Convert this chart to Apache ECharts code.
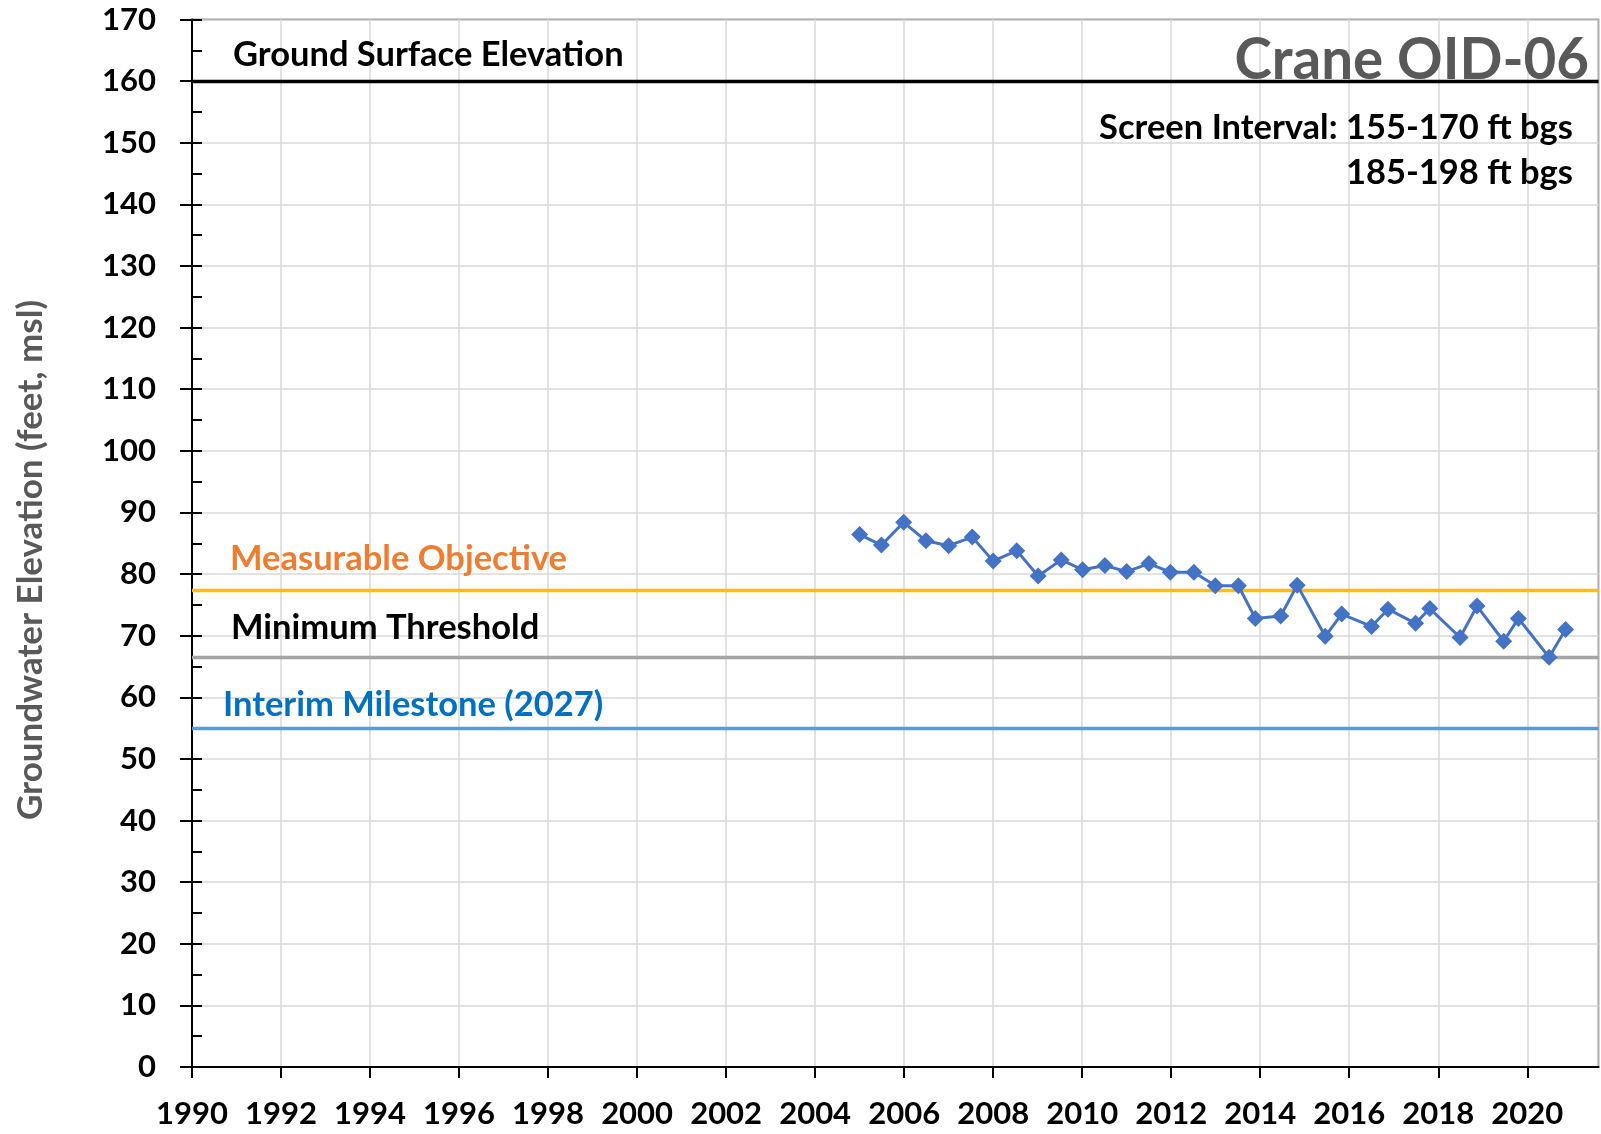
<!DOCTYPE html>
<html>
<head>
<meta charset="utf-8">
<script src="https://cdn.jsdelivr.net/npm/echarts@6/dist/echarts.min.js"></script>
<style>
    html, body { margin: 0; padding: 0; background: #fff; }
    #chart { width: 1601px; height: 1134px; }
</style>
</head>
<body>
<div id="chart"></div>
<script>
    // measured groundwater elevations (decimal year, feet msl)
    const sampleYears = [2005.0, 2005.49, 2005.99, 2006.49, 2007.0, 2007.53, 2008.0, 2008.53, 2009.01, 2009.53,
        2010.01, 2010.51, 2011.0, 2011.5, 2011.98, 2012.51, 2012.99, 2013.51, 2013.89, 2014.46,
        2014.83, 2015.46, 2015.83, 2016.5, 2016.87, 2017.49, 2017.81, 2018.49, 2018.87, 2019.47,
        2019.8, 2020.49, 2020.86];
    const elevations = [86.4, 84.7, 88.4, 85.4, 84.6, 86.0, 82.1, 83.8, 79.7, 82.3,
        80.7, 81.4, 80.4, 81.7, 80.3, 80.3, 78.1, 78.1, 72.8, 73.2,
        78.2, 69.9, 73.5, 71.5, 74.3, 72.0, 74.4, 69.7, 74.8, 69.1,
        72.8, 66.5, 71.0];

    // reference levels
    const levelNames = ['Ground Surface Elevation', 'Measurable Objective', 'Minimum Threshold', 'Interim Milestone (2027)'];
    const levelValues = [160, 77.4, 66.5, 55];
    const levelColors = ['#000000', '#FFC000', '#A5A5A5', '#5B9BD5'];

    const xRange = [1990, 2021.6];
    const yRange = [0, 170];

    const FONT = 'Lato, "Open Sans", sans-serif';

    const myChart = echarts.init(document.getElementById('chart'), null, {renderer: 'canvas'});

    let seriesData = sampleYears.map(function (t, i) { return [t, elevations[i]]; });

    function txt(text, x, y, size, color, align, rot) {
        return {
            type: 'text',
            x: x,
            y: y,
            rotation: rot || 0,
            z: 100,
            style: {
                text: text,
                fill: color,
                font: 'bold ' + size + 'px ' + FONT,
                textAlign: align,
                textVerticalAlign: 'middle'
            }
        };
    }

    let option = {
        backgroundColor: '#fff',
        animation: false,
        grid: {
            left: 192, right: 2.5, top: 19.5, bottom: 67,
            show: true, borderColor: '#404040', borderWidth: 1.5, backgroundColor: 'transparent'
        },
        xAxis: {
            type: 'value',
            min: xRange[0], max: xRange[1], interval: 2,
            axisLine: {lineStyle: {color: '#000', width: 2}},
            axisTick: {show: true, length: 11, lineStyle: {color: '#000', width: 2}},
            axisLabel: {
                margin: 31, color: '#000', fontSize: 31, fontWeight: 'bold', fontFamily: FONT,
                showMaxLabel: false,
                formatter: function (v) { return Number.isInteger(v) ? String(v) : ''; }
            },
            splitLine: {show: true, lineStyle: {color: '#D9D9D9', width: 1.5}}
        },
        yAxis: [{
            type: 'value',
            min: yRange[0], max: yRange[1], interval: 10,
            axisLine: {show: true, lineStyle: {color: '#000', width: 2}},
            axisTick: {show: true, length: 12, lineStyle: {color: '#000', width: 2}},
            axisLabel: {margin: 36, color: '#000', fontSize: 31, fontWeight: 'bold', fontFamily: FONT},
            splitLine: {show: true, lineStyle: {color: '#D9D9D9', width: 1.5}}
        }, {
            // inside ticks every 5 ft
            type: 'value',
            position: 'left',
            min: yRange[0], max: yRange[1], interval: 5,
            axisLine: {show: false},
            axisTick: {show: true, inside: true, length: 10, lineStyle: {color: '#000', width: 2}},
            axisLabel: {show: false},
            splitLine: {show: false}
        }],
        series: [{
            name: 'levels',
            type: 'line',
            data: [],
            z: 2,
            markLine: {
                silent: true,
                symbol: 'none',
                label: {show: false},
                data: levelValues.map(function (v, i) {
                    return {name: levelNames[i], yAxis: v, lineStyle: {color: levelColors[i], width: 3.3, type: 'solid'}};
                })
            }
        }, {
            name: 'Groundwater Elevation',
            type: 'line',
            data: seriesData,
            z: 5,
            symbol: 'diamond',
            symbolSize: 17,
            itemStyle: {color: '#4472C4'},
            lineStyle: {color: '#4472C4', width: 3}
        }],
        graphic: [
            txt('Ground Surface Elevation', 233, 55, 34.5, '#000', 'left'),
            txt('Crane OID-06', 1589, 61, 56.5, '#595959', 'right'),
            txt('Screen Interval: 155-170 ft bgs', 1573, 128, 34.5, '#000', 'right'),
            txt('185-198 ft bgs', 1573, 173, 34.5, '#000', 'right'),
            txt('Measurable Objective', 230, 559, 34.5, '#ED7D31', 'left'),
            txt('Minimum Threshold', 231, 628, 34.5, '#000', 'left'),
            txt('Interim Milestone (2027)', 223, 705, 34.5, '#0070C0', 'left'),
            txt('Groundwater Elevation (feet, msl)', 31, 560, 35, '#595959', 'center', Math.PI / 2)
        ]
    };

    myChart.setOption(option);
</script>
</body>
</html>
